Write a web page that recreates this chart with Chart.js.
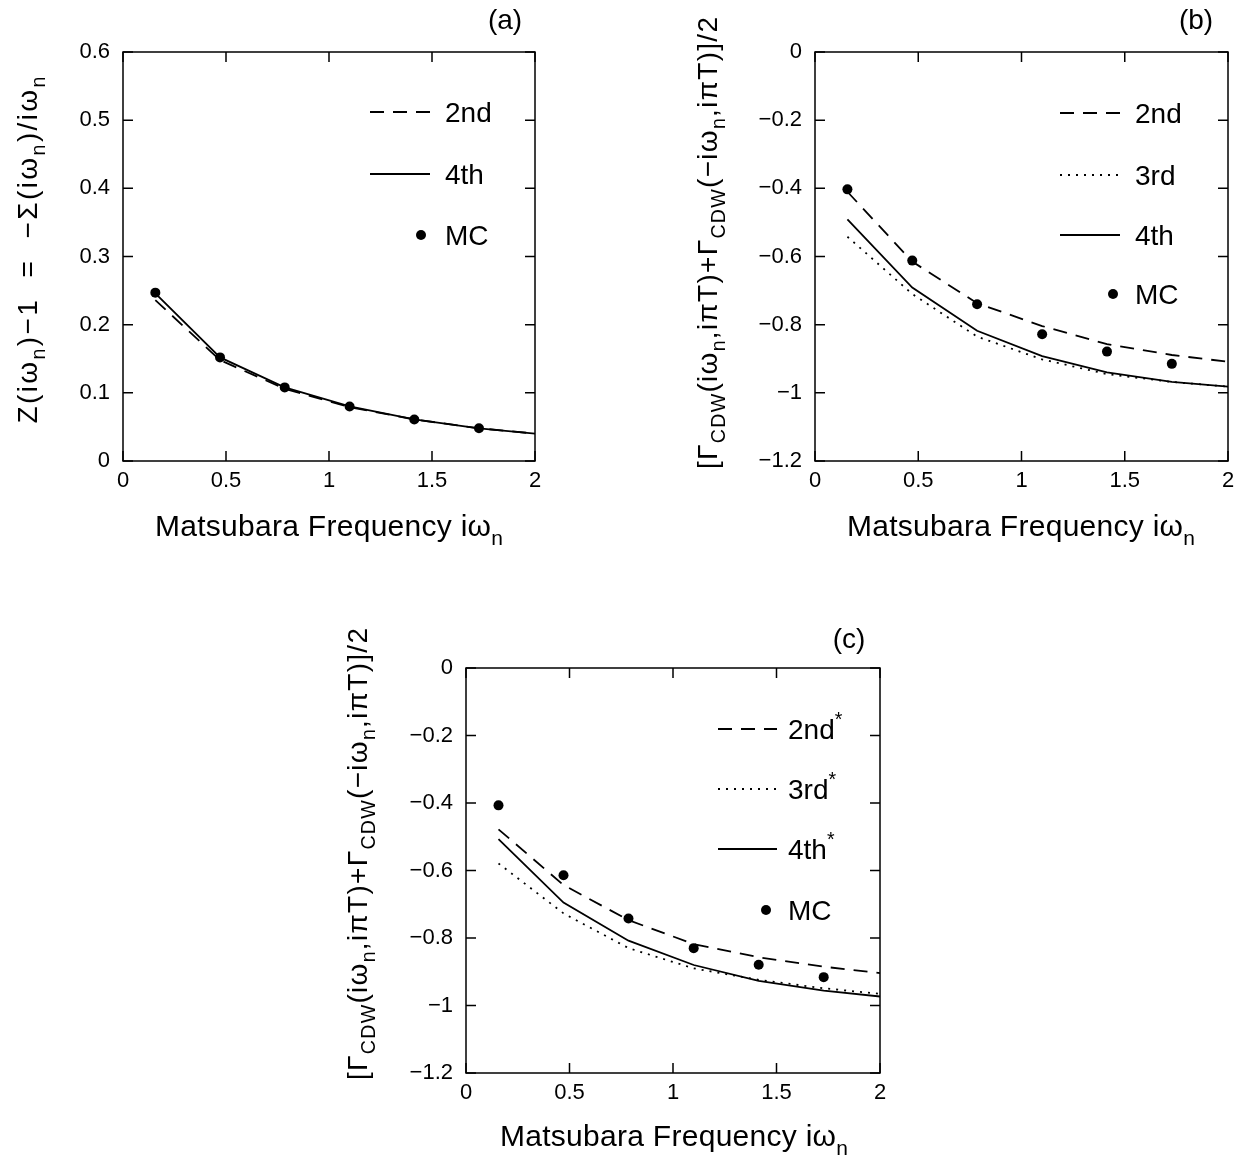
<!DOCTYPE html>
<html><head><meta charset="utf-8">
<script src="https://cdn.jsdelivr.net/npm/chart.js@4.4.1/dist/chart.umd.min.js"></script>
<style>
html,body{margin:0;padding:0;background:#fff;}
body{width:1248px;height:1155px;position:relative;overflow:hidden;}
canvas{position:absolute;}
</style></head><body>
<canvas id="ca" width="624" height="577" style="left:0px;top:0px"></canvas>
<canvas id="cb" width="624" height="577" style="left:624px;top:0px"></canvas>
<canvas id="cc" width="624" height="567" style="left:312px;top:588px"></canvas>
<script>
const FONT = '"Liberation Sans", Arial, sans-serif';

// ---------- data ----------
const freq   = [0.157, 0.471, 0.785, 1.100, 1.414, 1.728, 2.042];
const freqMC = [0.157, 0.471, 0.785, 1.100, 1.414, 1.728];
const xTicks   = [0, 0.5, 1, 1.5, 2];
const yTicksA  = [0, 0.1, 0.2, 0.3, 0.4, 0.5, 0.6];
const yTicksBC = [-1.2, -1, -0.8, -0.6, -0.4, -0.2, 0];

// panel (a)
const a2nd = [0.236, 0.148, 0.106, 0.079, 0.061, 0.048, 0.039];
const a4th = [0.246, 0.152, 0.108, 0.080, 0.061, 0.048, 0.039];
const aMC  = [0.247, 0.152, 0.108, 0.080, 0.061, 0.048];
// panel (b)
const b2nd = [-0.410, -0.615, -0.737, -0.804, -0.857, -0.889, -0.912];
const b3rd = [-0.542, -0.710, -0.835, -0.902, -0.945, -0.968, -0.984];
const b4th = [-0.491, -0.691, -0.818, -0.892, -0.940, -0.968, -0.984];
const bMC  = [-0.403, -0.612, -0.740, -0.828, -0.879, -0.915];
// panel (c)
const c2nd = [-0.478, -0.643, -0.747, -0.818, -0.857, -0.885, -0.907];
const c3rd = [-0.579, -0.727, -0.830, -0.890, -0.924, -0.949, -0.968];
const c4th = [-0.507, -0.695, -0.808, -0.880, -0.927, -0.956, -0.976];
const cMC  = [-0.407, -0.614, -0.742, -0.830, -0.879, -0.916];

// ---------- styles ----------
const DASH = [14, 9];
const DOT = [2, 6];
function pts(xs, ys) { return xs.map((x, i) => ({x: x, y: ys[i]})); }
function lineDS(label, ys, dash) {
  return { label, data: pts(freq, ys), showLine: true, pointRadius: 0, borderColor: '#000',
           borderWidth: 1.8, borderDash: dash, tension: 0, fill: false };
}
function mcDS(ys) {
  return { label: 'MC', data: pts(freqMC, ys), showLine: false, pointRadius: 5,
           pointBackgroundColor: '#000', pointBorderColor: '#000', pointBorderWidth: 0 };
}
function fmt(v) { return v === 0 ? '0' : String(v).replace('-', '\u2212'); }

// rich text: segs = [[text, 'n'|'s'|'p'], ...]
function drawRich(ctx, segs, x, y, size, target, rotate, align) {
  ctx.save();
  ctx.translate(x, y);
  if (rotate) ctx.rotate(-Math.PI / 2);
  ctx.fillStyle = '#000';
  ctx.textBaseline = 'alphabetic';
  ctx.textAlign = 'left';
  const chars = [];
  let natural = 0;
  segs.forEach(([t, m]) => {
    const fs = m === 'n' ? size : size * 0.7;
    const dy = m === 's' ? size * 0.3 : (m === 'p' ? -size * 0.45 : 0);
    const f = fs.toFixed(1) + 'px ' + FONT;
    ctx.font = f;
    for (const ch of t) {
      const w = ctx.measureText(ch).width;
      chars.push({ch, w, f, dy});
      natural += w;
    }
  });
  const ls = target ? (target - natural) / (chars.length - 1) : 0;
  const total = natural + ls * (chars.length - 1);
  let cx = align === 'center' ? -total / 2 : 0;
  chars.forEach(c => {
    ctx.font = c.f;
    ctx.fillText(c.ch, cx, c.dy);
    cx += c.w + ls;
  });
  ctx.restore();
}

function legendLine(ctx, style, x0, x1, y) {
  ctx.save();
  ctx.strokeStyle = '#000';
  ctx.lineWidth = 1.8;
  if (style === 'dash') { ctx.setLineDash(DASH); }
  if (style === 'dot') { ctx.setLineDash(DOT); }
  ctx.beginPath(); ctx.moveTo(x0, y); ctx.lineTo(x1, y); ctx.stroke();
  ctx.restore();
}

function framePlugin(cfg) {
  return {
    id: 'frame_' + cfg.id,
    afterDraw(chart) {
      const ctx = chart.ctx, a = chart.chartArea;
      const xs = chart.scales.x, ys = chart.scales.y;
      const TL = 10;
      ctx.save();
      ctx.strokeStyle = '#000';
      ctx.lineWidth = 1.5;
      ctx.strokeRect(a.left, a.top, a.right - a.left, a.bottom - a.top);
      ctx.beginPath();
      xs.ticks.forEach(t => {
        const px = xs.getPixelForValue(t.value);
        ctx.moveTo(px, a.bottom); ctx.lineTo(px, a.bottom - TL);
        ctx.moveTo(px, a.top); ctx.lineTo(px, a.top + TL);
      });
      ys.ticks.forEach(t => {
        const py = ys.getPixelForValue(t.value);
        ctx.moveTo(a.left, py); ctx.lineTo(a.left + TL, py);
        ctx.moveTo(a.right, py); ctx.lineTo(a.right - TL, py);
      });
      ctx.stroke();
      ctx.restore();

      // axis titles
      drawRich(ctx, cfg.yTitle, cfg.yT[0], cfg.yT[1], 28, cfg.yT[2], true, 'center');
      drawRich(ctx, [['Matsubara Frequency i\u03c9', 'n'], ['n', 's']],
               cfg.xT[0], cfg.xT[1], 30, cfg.xT[2], false, 'left');
      // panel label
      ctx.save();
      ctx.fillStyle = '#000';
      ctx.font = '28px ' + FONT;
      ctx.textAlign = 'center'; ctx.textBaseline = 'middle';
      ctx.fillText(cfg.label[0], cfg.label[1], cfg.label[2]);
      ctx.restore();
      // legend
      const L = cfg.legend;
      L.rows.forEach(r => {
        if (r.style === 'point') {
          ctx.save(); ctx.fillStyle = '#000';
          ctx.beginPath(); ctx.arc(L.dotX, r.y, 5, 0, Math.PI * 2); ctx.fill(); ctx.restore();
        } else {
          legendLine(ctx, r.style, L.x0, L.x1, r.y);
        }
        const segs = [[r.text, 'n']];
        if (r.star) segs.push(['*', 'p']);
        drawRich(ctx, segs, L.tx, r.y + 10, 28, 0, false, 'left');
      });
    }
  };
}

function makePanel(id, datasets, yTicks, lay, cfg) {
  const el = document.getElementById(id);
  return new Chart(el, {
    type: 'scatter',
    data: { datasets },
    options: {
      responsive: false, animation: false, devicePixelRatio: 1,
      layout: { padding: { left: 0, top: lay.top, right: lay.right, bottom: 0 } },
      plugins: { legend: { display: false }, tooltip: { enabled: false } },
      scales: {
        x: {
          type: 'linear', min: 0, max: 2,
          afterBuildTicks: s => { s.ticks = xTicks.map(v => ({ value: v })); },
          ticks: { font: { family: FONT, size: 22 }, color: '#000', padding: 7,
                   maxRotation: 0, autoSkip: false, callback: fmt },
          grid: { display: false, drawTicks: false }, border: { display: false },
          afterFit: s => { s.height = lay.hx; s.paddingLeft = 0; s.paddingRight = 0; }
        },
        y: {
          type: 'linear', min: yTicks[0], max: yTicks[yTicks.length - 1],
          afterBuildTicks: s => { s.ticks = yTicks.map(v => ({ value: v })); },
          ticks: { font: { family: FONT, size: 22 }, color: '#000', padding: 13,
                   autoSkip: false, callback: fmt },
          grid: { display: false, drawTicks: false }, border: { display: false },
          afterFit: s => { s.width = lay.wy; s.paddingTop = 0; s.paddingBottom = 0; }
        }
      }
    },
    plugins: [framePlugin(cfg)]
  });
}

const gammaTitle = [
  ['[\u0393', 'n'], ['CDW', 's'], ['(i\u03c9', 'n'], ['n', 's'], [',i\u03c0T)+\u0393', 'n'],
  ['CDW', 's'], ['(\u2212i\u03c9', 'n'], ['n', 's'], [',i\u03c0T)]/2', 'n']
];

// (a)
makePanel('ca',
  [lineDS('2nd', a2nd, DASH), lineDS('4th', a4th, []), mcDS(aMC)],
  yTicksA,
  { top: 52, right: 89, wy: 123, hx: 116 },
  { id: 'a',
    yTitle: [['Z(i\u03c9', 'n'], ['n', 's'], [')\u22121  =  \u2212\u03a3(i\u03c9', 'n'], ['n', 's'], [')/i\u03c9', 'n'], ['n', 's']],
    yT: [37, 250, 347],
    xT: [155, 536, 348],
    label: ['(a)', 505, 21],
    legend: { x0: 370, x1: 430, tx: 445, dotX: 421,
      rows: [ { style: 'dash', text: '2nd', y: 112 },
              { style: 'solid', text: '4th', y: 174 },
              { style: 'point', text: 'MC', y: 235 } ] }
  });

// (b)
makePanel('cb',
  [lineDS('2nd', b2nd, DASH), lineDS('3rd', b3rd, DOT), lineDS('4th', b4th, []), mcDS(bMC)],
  yTicksBC,
  { top: 52, right: 20, wy: 191, hx: 116 },
  { id: 'b',
    yTitle: gammaTitle,
    yT: [717 - 624, 243, 452],
    xT: [847 - 624, 536, 348],
    label: ['(b)', 1196 - 624, 21],
    legend: { x0: 1060 - 624, x1: 1120 - 624, tx: 1135 - 624, dotX: 1113 - 624,
      rows: [ { style: 'dash', text: '2nd', y: 113 },
              { style: 'dot', text: '3rd', y: 175 },
              { style: 'solid', text: '4th', y: 235 },
              { style: 'point', text: 'MC', y: 294 } ] }
  });

// (c)
makePanel('cc',
  [lineDS('2nd*', c2nd, DASH), lineDS('3rd*', c3rd, DOT), lineDS('4th*', c4th, []), mcDS(cMC)],
  yTicksBC,
  { top: 80, right: 56, wy: 154, hx: 82 },
  { id: 'c',
    yTitle: gammaTitle,
    yT: [367 - 312, 854 - 588, 452],
    xT: [500 - 312, 1146 - 588, 348],
    label: ['(c)', 849 - 312, 640 - 588],
    legend: { x0: 718 - 312, x1: 777 - 312, tx: 788 - 312, dotX: 766 - 312,
      rows: [ { style: 'dash', text: '2nd', star: true, y: 729 - 588 },
              { style: 'dot', text: '3rd', star: true, y: 789 - 588 },
              { style: 'solid', text: '4th', star: true, y: 849 - 588 },
              { style: 'point', text: 'MC', y: 910 - 588 } ] }
  });
</script>
</body></html>
